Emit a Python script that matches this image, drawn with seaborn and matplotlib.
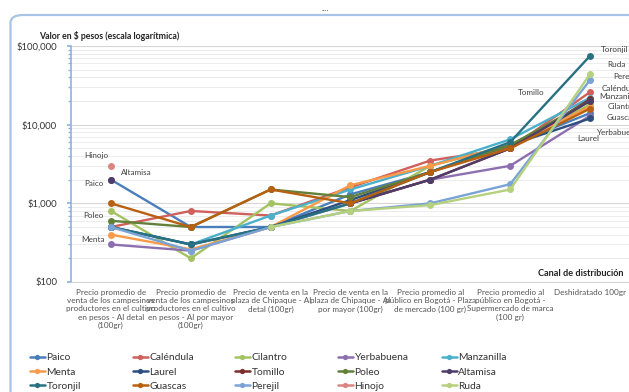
import numpy as np
import pandas as pd
import matplotlib
matplotlib.use("Agg")
import matplotlib.pyplot as plt
from matplotlib.lines import Line2D
from matplotlib.patches import FancyBboxPatch
from matplotlib.ticker import FixedLocator, FuncFormatter, LogLocator, NullFormatter
import seaborn as sns

nan = np.nan

categories = [
    "Precio promedio de\nventa de los campesinos\nproductores en el cultivo\nen pesos - Al detal\n(100gr)",
    "Precio promedio de\nventa de los campesinos\nproductores en el cultivo\nen pesos - Al por mayor\n(100gr)",
    "Precio de venta en la\nplaza de Chipaque - Al\ndetal (100gr)",
    "Precio de venta en la\nplaza de Chipaque - Al\npor mayor (100gr)",
    "Precio promedio al\npúblico en Bogotá - Plaza\nde mercado (100 gr)",
    "Precio promedio al\npúblico en Bogotá -\nSupermercado de marca\n(100 gr)",
    "Deshidratado 100gr",
]

series = ["Paico", "Caléndula", "Cilantro", "Yerbabuena", "Manzanilla",
          "Menta", "Laurel", "Tomillo", "Poleo", "Altamisa",
          "Toronjil", "Guascas", "Perejil", "Hinojo", "Ruda"]

paico      = [2000, 500, 500, 1300, 2500, 5500, 14000]
calendula  = [500, 800, 700, 1600, 3500, 5000, 26000]
cilantro   = [800, 200, 1000, 800, 3000, 5500, 18000]
yerbabuena = [300, 250, 500, 1000, 2000, 3000, 13000]
manzanilla = [500, 300, 700, 1500, 3000, 6500, 22000]
menta      = [400, 260, 500, 1700, 3000, 5500, 17000]
laurel     = [500, 300, 500, 1100, 2500, 5500, 12000]
tomillo    = [nan, nan, nan, 1000, 2000, 5000, 21000]
poleo      = [600, 500, 1500, 1200, 2500, 5500, 20000]
altamisa   = [2000, nan, nan, 1000, 2000, 5000, 20000]
toronjil   = [500, 300, 500, 1000, 2500, 6000, 75000]
guascas    = [1000, 500, 1500, 1000, 2500, 5000, 16000]
perejil    = [500, 250, 500, 800, 1000, 1750, 37000]
hinojo     = [3000, nan, nan, nan, nan, nan, nan]
ruda       = [nan, nan, 500, 800, 950, 1500, 44000]

values = [paico, calendula, cilantro, yerbabuena, manzanilla, menta, laurel,
          tomillo, poleo, altamisa, toronjil, guascas, perejil, hinojo, ruda]

colors = ["#4a7ebb", "#d0605c", "#a3c262", "#8d6fb0", "#4bb0cc",
          "#f79a4a", "#2c4f80", "#7a2e2b", "#62803a", "#4f3c68",
          "#287183", "#b8600f", "#7aa3d6", "#db8583", "#b5d07e"]

# data labels (text annotations)
label_pos = {
    "Toronjil": (6.14, 90700), "Ruda": (6.21, 58500), "Perejil": (6.29, 41000),
    "Caléndula": (6.15, 29000), "Manzanilla": (6.11, 22900), "Cilantro": (6.22, 17100),
    "Guascas": (6.21, 12400), "Yerbabuena": (6.08, 8000), "Laurel": (5.84, 6700),
    "Tomillo": (5.09, 25700), "Hinojo": (-0.34, 4070), "Altamisa": (0.125, 2480),
    "Paico": (-0.34, 1795), "Poleo": (-0.35, 704), "Menta": (-0.375, 349),
}

rows = []
for name, vals in zip(series, values):
    seg = 0
    prev_nan = True
    for i, v in enumerate(vals):
        if np.isnan(v):
            prev_nan = True
            continue
        if prev_nan:
            seg += 1
        prev_nan = False
        rows.append({"series": name, "pos": i, "value": v, "seg": f"{name}_{seg}"})
df = pd.DataFrame(rows)

sns.set_theme(style="white")
plt.rcParams["font.family"] = ["Lato", "DejaVu Sans"]

W, H = 629, 392
fig = plt.figure(figsize=(W / 100, H / 100), dpi=100)
fig.patch.set_facecolor("white")

# chart border
border = FancyBboxPatch((10.5 / W, -0.1), 1.2, (392 - 15) / H + 0.1,
                        boxstyle="round,pad=0,rounding_size=0.02",
                        transform=fig.transFigure, facecolor="none",
                        edgecolor="#a8c3e6", linewidth=1.6, zorder=0)
fig.patches.append(border)
fig.text(325 / W, 1 - 11 / H, "····", fontsize=5, color="#777777", ha="center", va="center")

ax = fig.add_axes([71 / W, 1 - 282 / H, (630 - 71) / W, (282 - 46) / H])
ax.set_facecolor("none")

palette = dict(zip(series, colors))
sns.lineplot(data=df, x="pos", y="value", hue="series", units="seg", estimator=None,
             hue_order=series, palette=palette, marker="o", markersize=5,
             markeredgewidth=0, linewidth=1.7, legend=False, sort=False, ax=ax)

ax.set_yscale("log")
ax.set_ylim(100, 100000)
ax.set_xlim(-0.5, 6.5)

ax.yaxis.set_major_locator(FixedLocator([100, 1000, 10000, 100000]))
ax.yaxis.set_major_formatter(FuncFormatter(lambda v, p: "${:,.0f}".format(v)))
ax.yaxis.set_minor_locator(LogLocator(base=10, subs=np.arange(2, 10)))
ax.yaxis.set_minor_formatter(NullFormatter())
ax.grid(True, which="major", axis="y", color="#d6d6d6", linewidth=0.8)
ax.grid(True, which="minor", axis="y", color="#ececec", linewidth=0.7)
ax.set_axisbelow(True)

ax.set_xticks(range(len(categories)))
ax.set_xticklabels(categories, fontsize=5.9, color="#555555", linespacing=1.2)
ax.tick_params(axis="x", length=0, pad=5)
ax.tick_params(axis="y", which="major", length=3, color="#8fb3e0", labelsize=6.8,
               labelcolor="#333333", pad=7)
ax.tick_params(axis="y", which="minor", length=2, color="#8fb3e0", left=True)
ax.tick_params(axis="y", which="both", direction="out", left=True)

for s in ["top", "right"]:
    ax.spines[s].set_visible(False)
ax.spines["left"].set_color("#8fb3e0")
ax.spines["left"].set_linewidth(1.2)
ax.spines["bottom"].set_color("#d6d6d6")
ax.spines["bottom"].set_linewidth(0.8)
ax.set_xlabel("")
ax.set_ylabel("")

for name, (x, y) in label_pos.items():
    ax.text(x, y, name, fontsize=5.9, color="#404040", ha="left", va="center", clip_on=False)

fig.text(39 / W, 1 - 36 / H, "Valor en $ pesos (escala logarítmica)", fontsize=6.3,
         fontweight="bold", color="#222222", ha="left", va="center")
fig.text(623 / W, 1 - 274 / H, "Canal de distribución", fontsize=6.6,
         fontweight="bold", color="#222222", ha="right", va="center")

# legend: 5 columns, 3 rows (row-major order)
col_x = [30, 133, 235, 338, 442]
for j in range(5):
    handles = []
    labels = []
    for k in range(j, len(series), 5):
        handles.append(Line2D([], [], color=colors[k], marker="o", markersize=3.8,
                              markeredgewidth=0, linewidth=1.8))
        labels.append(series[k])
    leg = fig.legend(handles, labels, loc="upper left",
                     bbox_to_anchor=(col_x[j] / W, 1 - 353 / H),
                     frameon=False, fontsize=7.4, handlelength=1.45,
                     handletextpad=0.15, labelspacing=0.5, borderpad=0,
                     borderaxespad=0)
    for t in leg.get_texts():
        t.set_color("#333333")

fig.savefig("out.png", dpi=100)
